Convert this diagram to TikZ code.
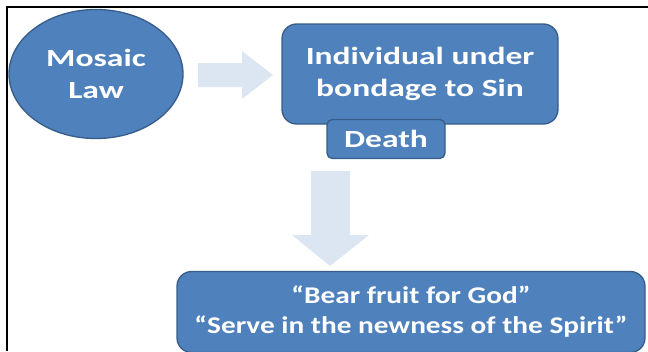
\documentclass[tikz,border=0pt]{standalone}
\usepackage{fontspec}
\setmainfont{Carlito}
\newfontfamily\wideface[FakeStretch=1.36]{Carlito}
\newfontfamily\midface[FakeStretch=1.22]{Carlito}
\usetikzlibrary{shapes.geometric}
\definecolor{boxblue}{HTML}{4F81BD}
\definecolor{boxedge}{HTML}{385D8A}
\definecolor{arrowblue}{HTML}{DCE6F2}
\tikzset{
  blok/.style={draw=boxedge, line width=1pt, fill=boxblue, text=white, align=center,
    font=\wideface\bfseries\fontsize{18.5}{24.5}\selectfont, inner sep=0pt},
  flowarrow/.style={fill=arrowblue, draw=none}
}

\begin{document}
\begin{tikzpicture}[x=0.75pt,y=-0.75pt]
			%%%%% START %%%%%
			\useasboundingbox (0,0) rectangle (648,351);
			
			\draw[line width=1.6pt] (7,351) -- (7,7) -- (648,7);
			
			\node[blok, ellipse, minimum width=130.5pt, minimum height=96.75pt] (law) at (96,74) {Mosaic\\Law};
			
			\node[blok, rounded corners=11pt, minimum width=207pt, minimum height=75pt] (bondage) at (420,74) {Individual under\\bondage to Sin};
			\node[blok, rounded corners=4pt, minimum width=88.5pt, minimum height=29.25pt, font=\wideface\bfseries\fontsize{18.5}{20}\selectfont] (death) at (386,139) {Death};
			
			\node[blok, rounded corners=11pt, minimum width=351pt, minimum height=60.75pt, font=\midface\bfseries\fontsize{18}{22.5}\selectfont] (fruit) at (411,312) {“Bear fruit for God”\\“Serve in the newness of the Spirit”};
			
			\fill[flowarrow] (198,63) -- (242,63) -- (242,51) -- (273,75) -- (242,99) -- (242,87) -- (198,87) -- cycle;
			\fill[flowarrow] (311,171) -- (350,171) -- (350,235) -- (369,235) -- (330,266) -- (292,235) -- (311,235) -- cycle;
			
			%%%%% END %%%%%
\end{tikzpicture}
\end{document}
